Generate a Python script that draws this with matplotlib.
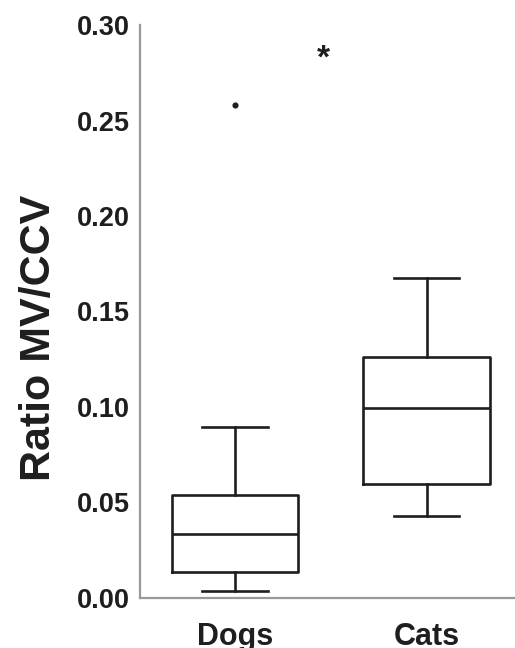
import matplotlib
matplotlib.use("Agg")
import matplotlib.pyplot as plt

plt.rcParams['font.family'] = ['Liberation Sans', 'DejaVu Sans']
plt.rcParams['font.weight'] = 'bold'

groups = ["Dogs", "Cats"]
whis_lo = [0.0038, 0.0429]
q1 = [0.0134, 0.0597]
medians = [0.0333, 0.0993]
q3 = [0.0540, 0.1262]
whis_hi = [0.0894, 0.1675]
fliers = [[0.258], []]
yticks = [0.00, 0.05, 0.10, 0.15, 0.20, 0.25, 0.30]

stats = []
for i, g in enumerate(groups):
    stats.append(dict(label=g, whislo=whis_lo[i], q1=q1[i], med=medians[i],
                      q3=q3[i], whishi=whis_hi[i], fliers=fliers[i]))

fig = plt.figure(figsize=(5.15, 6.48), dpi=100)
ax = fig.add_axes([0.272, 0.0772, 0.728, 0.8842])

ink = "#1e1e1e"
lw = 1.9
ax.bxp(stats, positions=[0, 1], widths=0.66, showfliers=True,
       boxprops=dict(color=ink, linewidth=lw),
       medianprops=dict(color=ink, linewidth=lw),
       whiskerprops=dict(color=ink, linewidth=lw),
       capprops=dict(color=ink, linewidth=lw),
       capwidths=0.34,
       flierprops=dict(marker='o', markersize=3.4, markerfacecolor=ink,
                       markeredgecolor=ink))

ax.text(0.46, 0.282, "*", ha='center', va='center', fontsize=24,
        fontweight='bold', color=ink)

ax.set_xlim(-0.495, 1.46)
ax.set_ylim(0, 0.30)
ax.set_yticks(yticks)
ax.set_yticklabels([f"{t:.2f}" for t in yticks])
ax.set_xticks([0, 1])
ax.set_xticklabels(groups)
ax.tick_params(axis='y', length=0, pad=7, labelsize=19.5, labelcolor=ink)
ax.tick_params(axis='x', length=0, pad=17, labelsize=22, labelcolor=ink)
for lab in ax.get_xticklabels() + ax.get_yticklabels():
    lab.set_fontweight('bold')

ax.set_ylabel("Ratio MV/CCV", fontsize=31, fontweight='bold', color=ink)
ax.yaxis.set_label_coords(-0.215, 0.454)

for s in ['top', 'right']:
    ax.spines[s].set_visible(False)
for s in ['left', 'bottom']:
    ax.spines[s].set_color("#999999")
    ax.spines[s].set_linewidth(1.6)

fig.savefig("out.png", dpi=100)
